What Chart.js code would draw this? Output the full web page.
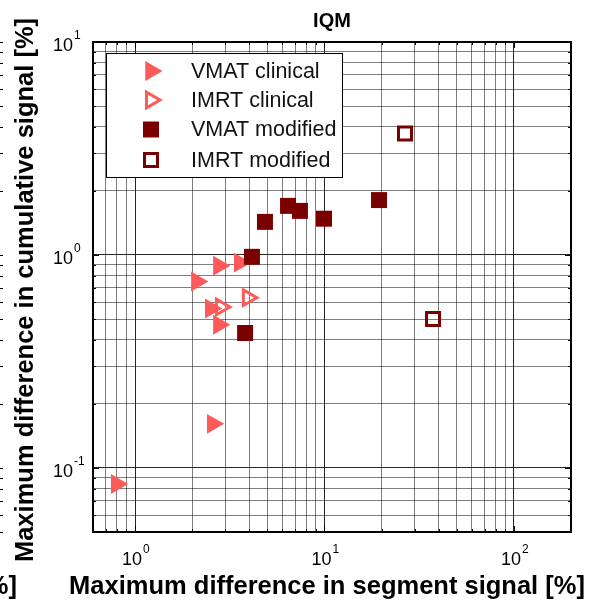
<!DOCTYPE html>
<html>
<head>
<meta charset="utf-8">
<title>IQM</title>
<script src="https://cdn.jsdelivr.net/npm/chart.js@4/dist/chart.umd.min.js"></script>
<style>
  html, body { margin: 0; padding: 0; background: #fff; }
  #wrap { width: 592px; height: 603px; position: relative; }
</style>
</head>
<body>
<div id="wrap"><canvas id="myChart"></canvas></div>
<script>
// max difference in segment signal [%] (x) vs cumulative signal [%] (y)
const vmatClinicalX = [0.80, 2.57, 2.12, 2.77, 3.57, 2.51, 2.77];
const vmatClinicalY = [0.084, 0.161, 0.75, 0.89, 0.92, 0.56, 0.47];
const imrtClinicalX = [2.84, 3.94];
const imrtClinicalY = [0.57, 0.63];
const vmatModifiedX = [4.14, 4.85, 6.42, 7.42, 9.94, 3.81, 19.4];
const vmatModifiedY = [0.98, 1.43, 1.70, 1.61, 1.48, 0.43, 1.81];
const imrtModifiedX = [26.6, 37.4];
const imrtModifiedY = [3.72, 0.50];

const seriesNames = ["VMAT clinical", "IMRT clinical", "VMAT modified", "IMRT modified"];
const xDecades = [0, 1, 2];
const yDecades = [-1, 0, 1];
const xMin = 0.6, xMax = 200;
const yMin = 0.05, yMax = 10;

const xTitle = "Maximum difference in segment signal [%]";
const yTitle = "Maximum difference in cumulative signal [%]";

const pink = "rgb(255, 90, 90)";
const maroon = "rgb(122, 0, 0)";
const FONT = "Arial, 'Liberation Sans', sans-serif";

function pts(xs, ys) {
  return xs.map((x, i) => ({ x: x, y: ys[i] }));
}

// every 1..9 multiple inside the range, like matlab's log minor grid
function logTicks(min, max) {
  const out = [];
  for (let e = Math.floor(Math.log10(min)); e <= Math.ceil(Math.log10(max)); e++) {
    for (let m = 1; m <= 9; m++) {
      const v = m * Math.pow(10, e);
      if (v >= min * 0.999 && v <= max * 1.001) out.push(v);
    }
  }
  if (out[0] > min) out.unshift(min);
  if (out[out.length - 1] < max) out.push(max);
  return out;
}

function isDecade(v) {
  const l = Math.log10(v);
  return Math.abs(l - Math.round(l)) < 1e-9;
}

const datasets = [
  {
    label: seriesNames[0],
    data: pts(vmatClinicalX, vmatClinicalY),
    pointStyle: "triangle",
    rotation: 90,
    pointRadius: 11.5,
    backgroundColor: pink,
    borderColor: pink,
    borderWidth: 0,
    order: 3,
  },
  {
    label: seriesNames[1],
    data: pts(imrtClinicalX, imrtClinicalY),
    pointStyle: "triangle",
    rotation: 90,
    pointRadius: 9,
    backgroundColor: "rgba(255,255,255,0)",
    borderColor: pink,
    borderWidth: 3,
    order: 2,
  },
  {
    label: seriesNames[2],
    data: pts(vmatModifiedX, vmatModifiedY),
    pointStyle: "rect",
    pointRadius: 11.3,
    backgroundColor: maroon,
    borderColor: maroon,
    borderWidth: 0,
    order: 1,
  },
  {
    label: seriesNames[3],
    data: pts(imrtModifiedX, imrtModifiedY),
    pointStyle: "rect",
    pointRadius: 9.2,
    backgroundColor: "rgba(255,255,255,0)",
    borderColor: maroon,
    borderWidth: 3,
    order: 0,
  },
];

function supLabel(ctx, x, y, exp) {
  // "10" with a raised exponent
  ctx.font = "18px " + FONT;
  ctx.textBaseline = "alphabetic";
  ctx.textAlign = "left";
  const w = ctx.measureText("10").width;
  ctx.fillText("10", x, y);
  ctx.font = "12px " + FONT;
  ctx.fillText(String(exp), x + w + 1, y - 12);
}

// frame, inward ticks, tick labels, titles and the boxed legend
const decorations = {
  id: "decorations",
  afterDatasetsDraw(chart) {
    const { ctx, chartArea: a, scales } = chart;
    const xs = scales.x, ys = scales.y;
    ctx.save();

    // legend box sits over the grid and points
    const lg = { l: 106, t: 53, r: 342, b: 177 };
    ctx.fillStyle = "#fff";
    ctx.fillRect(lg.l, lg.t, lg.r - lg.l, lg.b - lg.t);
    ctx.strokeStyle = "#000";
    ctx.lineWidth = 1;
    ctx.strokeRect(lg.l + 0.5, lg.t + 0.5, lg.r - lg.l, lg.b - lg.t);
    const rows = [71, 100, 129.5, 160];
    chart.data.datasets.forEach((ds, i) => {
      ctx.fillStyle = ds.backgroundColor;
      ctx.strokeStyle = ds.borderColor;
      ctx.lineWidth = ds.borderWidth;
      Chart.helpers.drawPoint(ctx, {
        pointStyle: ds.pointStyle,
        rotation: ds.rotation || 0,
        radius: ds.pointRadius,
        borderWidth: ds.borderWidth,
      }, 151, rows[i]);
      ctx.fillStyle = "#111";
      ctx.font = "21.5px " + FONT;
      ctx.textAlign = "left";
      ctx.textBaseline = "middle";
      ctx.fillText(ds.label, 191, rows[i] + 1);
    });

    // ticks pointing inwards on all four sides
    ctx.strokeStyle = "#000";
    ctx.lineWidth = 1;
    ctx.beginPath();
    xs.ticks.forEach(t => {
      const px = Math.round(xs.getPixelForValue(t.value)) + 0.5;
      const len = isDecade(t.value) ? 6 : 3;
      ctx.moveTo(px, a.bottom); ctx.lineTo(px, a.bottom - len);
      ctx.moveTo(px, a.top); ctx.lineTo(px, a.top + len);
    });
    ys.ticks.forEach(t => {
      const py = Math.round(ys.getPixelForValue(t.value)) + 0.5;
      const len = isDecade(t.value) ? 6 : 3;
      ctx.moveTo(a.left, py); ctx.lineTo(a.left + len, py);
      ctx.moveTo(a.right, py); ctx.lineTo(a.right - len, py);
      // right-hand ticks of the panel next door, cut by the edge
      ctx.moveTo(0, py); ctx.lineTo(3, py);
    });
    ctx.stroke();

    ctx.lineWidth = 2;
    ctx.strokeRect(a.left, a.top, a.right - a.left, a.bottom - a.top);

    // tick labels
    ctx.fillStyle = "#000";
    xDecades.forEach(e => {
      const px = xs.getPixelForValue(Math.pow(10, e));
      supLabel(ctx, px - 13, 565, e);
    });
    yDecades.forEach(e => {
      const py = ys.getPixelForValue(Math.pow(10, e));
      supLabel(ctx, 53, py + 9, e);
    });

    // title and axis titles
    ctx.textAlign = "center";
    ctx.textBaseline = "alphabetic";
    ctx.font = "bold 20px " + FONT;
    ctx.fillText("IQM", (a.left + a.right) / 2, 27);
    ctx.font = "bold 25.5px " + FONT;
    ctx.fillText(xTitle, 327, 594);
    // tail of the neighbouring panel's x title
    ctx.textAlign = "right";
    ctx.fillText(xTitle, 17, 594);
    ctx.textAlign = "center";
    ctx.save();
    ctx.translate(33, 290);
    ctx.rotate(-Math.PI / 2);
    ctx.fillText(yTitle, 0, 0);
    ctx.restore();

    ctx.restore();
  },
};

const gridColor = (c) => (c.tick && isDecade(c.tick.value) ? "rgba(0,0,0,0.85)" : "rgba(0,0,0,0.5)");

const ctx = document.getElementById("myChart").getContext("2d");
const myChart = new Chart(ctx, {
  type: "scatter",
  data: { datasets: datasets },
  options: {
    responsive: true,
    maintainAspectRatio: false,
    animation: false,
    layout: { padding: { top: 42, right: 21, left: 0, bottom: 0 } },
    plugins: {
      legend: { display: false },
      title: { display: false },
      tooltip: { enabled: false },
    },
    scales: {
      x: {
        type: "logarithmic",
        min: xMin,
        max: xMax,
        afterBuildTicks: (s) => { s.ticks = logTicks(xMin, xMax).map(v => ({ value: v })); },
        afterFit: (s) => { s.height = 71; },
        ticks: { display: false, autoSkip: false },
        border: { display: false },
        grid: { color: gridColor, lineWidth: 1, drawTicks: false },
      },
      y: {
        type: "logarithmic",
        min: yMin,
        max: yMax,
        afterBuildTicks: (s) => { s.ticks = logTicks(yMin, yMax).map(v => ({ value: v })); },
        afterFit: (s) => { s.width = 93; },
        ticks: { display: false, autoSkip: false },
        border: { display: false },
        grid: { color: gridColor, lineWidth: 1, drawTicks: false },
      },
    },
  },
  plugins: [decorations],
});
</script>
</body>
</html>
